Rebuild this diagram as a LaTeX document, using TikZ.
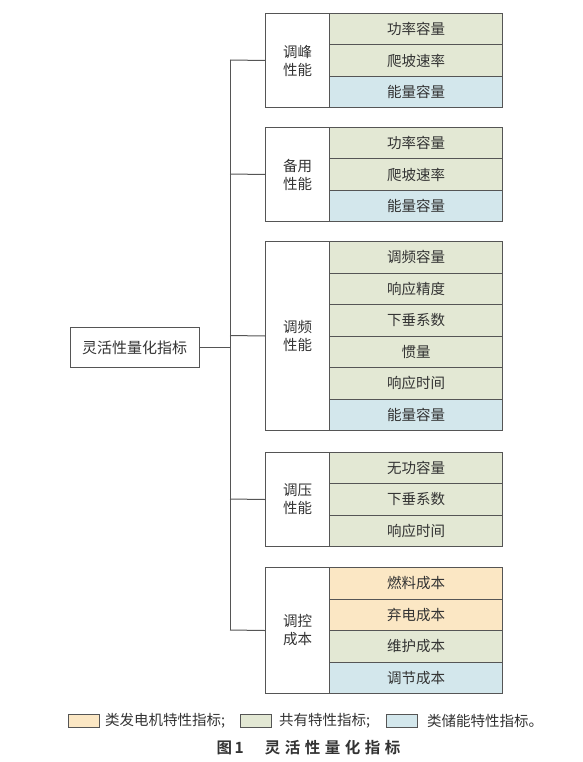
\documentclass[tikz,border=0pt]{standalone}
\usepackage{fontspec}
\newfontfamily\cjk{Noto Sans CJK SC}
\newfontfamily\cjkb{Noto Sans CJK SC Bold}
\definecolor{cg}{HTML}{E3E8D4}
\definecolor{cb}{HTML}{D3E7EC}
\definecolor{co}{HTML}{FBE7C4}
\definecolor{ln}{HTML}{555555}
\definecolor{tx}{HTML}{333333}
\begin{document}
\begin{tikzpicture}[x=1pt,y=-1pt,
  cell/.style={draw=ln,line width=1pt,minimum width=173pt,anchor=north west,inner sep=0pt,font=\cjk\fontsize{14.5}{16}\selectfont,text=tx},
  lab/.style={draw=ln,line width=1pt,minimum width=64pt,anchor=north west,inner sep=0pt,align=center,font=\cjk\fontsize{14.5}{18}\selectfont,text=tx},
  conn/.style={draw=ln,line width=1pt},
  leg/.style={draw=ln,line width=1pt,minimum width=31pt,minimum height=13pt,inner sep=0pt},
  legt/.style={font=\cjk\fontsize{14.5}{16}\selectfont,text=tx,anchor=west,inner sep=0pt}]
\useasboundingbox (0,0) rectangle (582,762);
% root
\node[draw=ln,line width=1pt,minimum width=129pt,minimum height=40pt,inner sep=0pt,font=\cjk\fontsize{15}{17}\selectfont,text=tx] (root) at (134.5,347.5) {灵活性量化指标};
% group 1
\node[lab,minimum height=94pt] (g1) at (265,13) {调峰\\性能};
\node[cell,fill=cg,minimum height=31.3pt] (a1) at (329,13) {功率容量};
\node[cell,fill=cg,minimum height=31.3pt] (a2) at (329,44.3) {爬坡速率};
\node[cell,fill=cb,minimum height=31.4pt] (a3) at (329,75.6) {能量容量};
% group 2
\node[lab,minimum height=94pt] (g2) at (265,127) {备用\\性能};
\node[cell,fill=cg,minimum height=31.3pt] (b1) at (329,127) {功率容量};
\node[cell,fill=cg,minimum height=31.3pt] (b2) at (329,158.3) {爬坡速率};
\node[cell,fill=cb,minimum height=31.4pt] (b3) at (329,189.6) {能量容量};
% group 3
\node[lab,minimum height=189pt] (g3) at (265,241) {调频\\性能};
\node[cell,fill=cg,minimum height=31.5pt] (c1) at (329,241) {调频容量};
\node[cell,fill=cg,minimum height=31.5pt] (c2) at (329,272.5) {响应精度};
\node[cell,fill=cg,minimum height=31.5pt] (c3) at (329,304) {下垂系数};
\node[cell,fill=cg,minimum height=31.5pt] (c4) at (329,335.5) {惯量};
\node[cell,fill=cg,minimum height=31.5pt] (c5) at (329,367) {响应时间};
\node[cell,fill=cb,minimum height=31.5pt] (c6) at (329,398.5) {能量容量};
% group 4
\node[lab,minimum height=94pt] (g4) at (265,452) {调压\\性能};
\node[cell,fill=cg,minimum height=31.3pt] (d1) at (329,452) {无功容量};
\node[cell,fill=cg,minimum height=31.3pt] (d2) at (329,483.3) {下垂系数};
\node[cell,fill=cg,minimum height=31.4pt] (d3) at (329,514.6) {响应时间};
% group 5
\node[lab,minimum height=126pt] (g5) at (265,567) {调控\\成本};
\node[cell,fill=co,minimum height=31.5pt] (e1) at (329,567) {燃料成本};
\node[cell,fill=co,minimum height=31.5pt] (e2) at (329,598.5) {弃电成本};
\node[cell,fill=cg,minimum height=31.5pt] (e3) at (329,630) {维护成本};
\node[cell,fill=cb,minimum height=31.5pt] (e4) at (329,661.5) {调节成本};
% connectors
\coordinate (t1) at (230,60);
\coordinate (t5) at (230,630);
\coordinate (tr) at (230,347.5);
\draw[conn] (root.east) -- (tr);
\draw[conn] (t1) -- (t5);
\draw[conn] (t1) -- (g1.west);
\draw[conn] (230,174) -- (g2.west);
\draw[conn] (230,335.5) -- (g3.west);
\draw[conn] (230,499) -- (g4.west);
\draw[conn] (t5) -- (g5.west);
% legend
\node[leg,fill=co] (l1) at (83.5,720.5) {};
\node[legt] (l1t) at (105,720.5) {类发电机特性指标;};
\node[leg,fill=cg] (l2) at (256,720.5) {};
\node[legt] (l2t) at (279,720.5) {共有特性指标;};
\node[leg,fill=cb] (l3) at (402,720.5) {};
\node[legt] (l3t) at (427,720.5) {类储能特性指标。};
% caption
\node[font=\cjkb\fontsize{15.5}{17}\selectfont,text=tx,inner sep=0pt] (cap) at (308.5,748) {图\,1\hspace{21pt}灵\hspace{4.5pt}活\hspace{4.5pt}性\hspace{4.5pt}量\hspace{4.5pt}化\hspace{4.5pt}指\hspace{4.5pt}标};
\end{tikzpicture}
\end{document}
